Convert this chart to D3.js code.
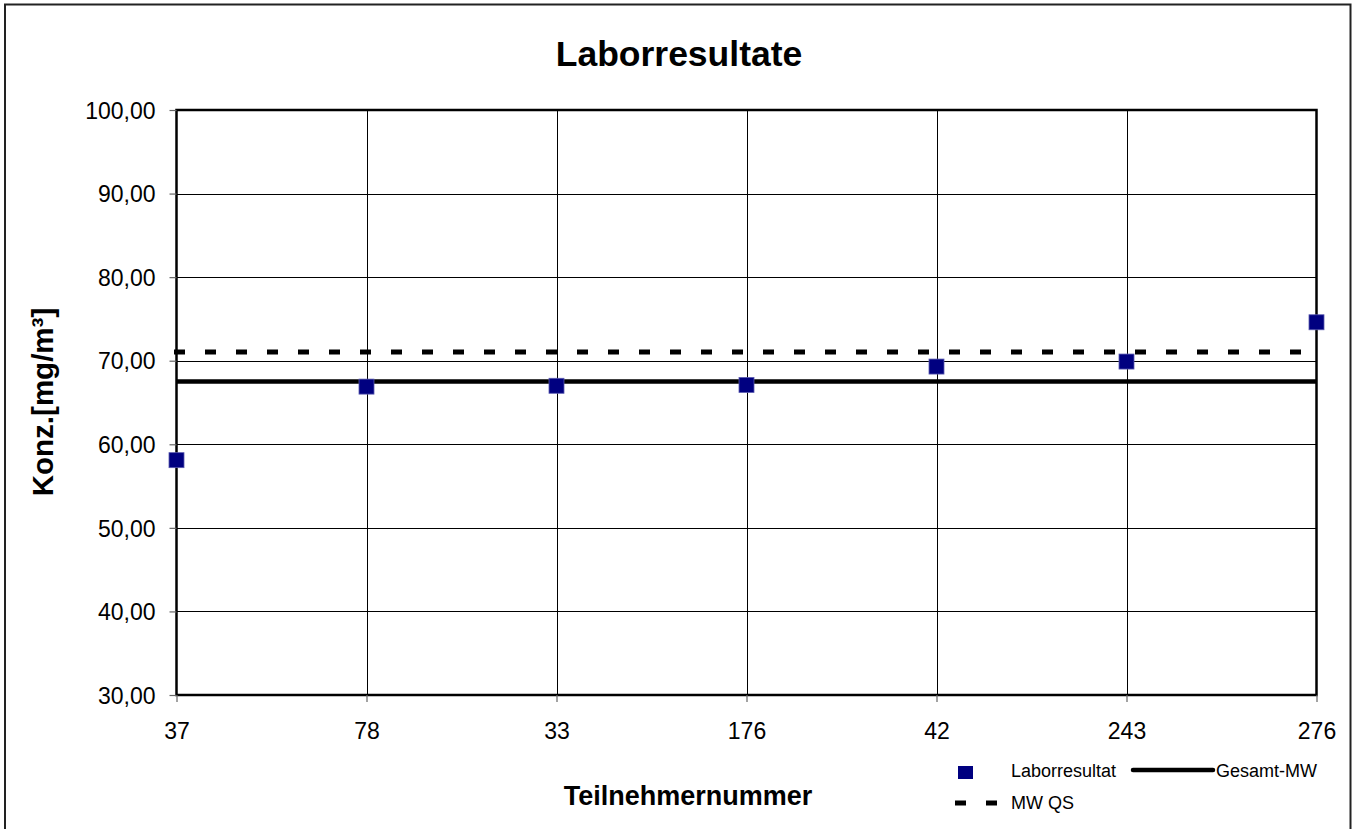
<!DOCTYPE html>
<html>
<head>
<meta charset="utf-8">
<script src="https://cdn.jsdelivr.net/npm/d3@7"></script>
<style>
  html, body { margin: 0; padding: 0; background: #fff; }
  svg { display: block; font-family: "Liberation Sans", Arial, sans-serif; }
</style>
</head>
<body>
<svg id="chart" width="1356" height="829"></svg>
<script>
const categories = ["37", "78", "33", "176", "42", "243", "276"];
const laborresultat = [58.1, 66.9, 67.0, 67.1, 69.3, 69.9, 74.6];
const gesamtMW = [67.5, 67.5, 67.5, 67.5, 67.5, 67.5, 67.5];
const mwQS = [71.05, 71.05, 71.05, 71.05, 71.05, 71.05, 71.05];
const yTicks = [30, 40, 50, 60, 70, 80, 90, 100];

const svg = d3.select("#chart");
const m = { left: 176.5, right: 1316.5, top: 110, bottom: 695 };

const x = d3.scalePoint().domain(categories).range([m.left, m.right]).padding(0);
const y = d3.scaleLinear().domain([30, 100]).range([m.bottom, m.top]);
const fmt = v => d3.format(".2f")(v).replace(".", ",");

// outer frame
svg.append("rect").attr("x", 5).attr("y", 4.5).attr("width", 1345.5).attr("height", 840)
  .attr("fill", "none").attr("stroke", "#222").attr("stroke-width", 2);

// gridlines
svg.append("g").selectAll("line").data(yTicks.filter(d => d > 30 && d < 100)).join("line")
  .attr("x1", m.left).attr("x2", m.right)
  .attr("y1", d => Math.round(y(d)) + 0.5).attr("y2", d => Math.round(y(d)) + 0.5)
  .attr("stroke", "#000").attr("stroke-width", 1);
svg.append("g").selectAll("line").data(categories.slice(1, -1)).join("line")
  .attr("y1", m.top).attr("y2", m.bottom)
  .attr("x1", d => Math.round(x(d)) + 0.5).attr("x2", d => Math.round(x(d)) + 0.5)
  .attr("stroke", "#000").attr("stroke-width", 1);

// plot border
svg.append("rect").attr("x", m.left).attr("y", m.top)
  .attr("width", m.right - m.left).attr("height", m.bottom - m.top)
  .attr("fill", "none").attr("stroke", "#000").attr("stroke-width", 2.5);

// y axis
const yAxis = d3.axisLeft(y).tickValues(yTicks).tickFormat(fmt).tickSize(7).tickPadding(14);
const gy = svg.append("g").attr("transform", `translate(${m.left},0)`).call(yAxis);
gy.select(".domain").remove();
gy.selectAll(".tick line").attr("stroke", "#666").attr("stroke-width", 1.2);
gy.selectAll("text").attr("font-size", 23).attr("fill", "#000")
  .attr("font-family", "Liberation Sans, Arial, sans-serif").attr("dy", "0.36em");

// x axis
const xAxis = d3.axisBottom(x).tickSize(7).tickPadding(21);
const gx = svg.append("g").attr("transform", `translate(0,${m.bottom})`).call(xAxis);
gx.select(".domain").remove();
gx.selectAll(".tick line").attr("stroke", "#666").attr("stroke-width", 1.2);
gx.selectAll("text").attr("font-size", 23).attr("fill", "#000")
  .attr("font-family", "Liberation Sans, Arial, sans-serif").attr("dy", "0.71em");

// lines
const line = d3.line().x((d, i) => x(categories[i])).y(d => y(d));
svg.append("path").datum(mwQS).attr("d", line)
  .attr("fill", "none").attr("stroke", "#000").attr("stroke-width", 5)
  .attr("stroke-dasharray", "6,25").attr("stroke-linecap", "square");
svg.append("path").datum(gesamtMW).attr("d", line)
  .attr("fill", "none").attr("stroke", "#000").attr("stroke-width", 4.5);

// markers
const ms = 15;
svg.append("g").selectAll("rect").data(laborresultat).join("rect")
  .attr("x", (d, i) => x(categories[i]) - ms / 2)
  .attr("y", d => y(d) - ms / 2)
  .attr("width", ms).attr("height", ms)
  .attr("fill", "#000080").attr("stroke", "#5a5ab0").attr("stroke-width", 0.8);

// title
svg.append("text").attr("x", 679).attr("y", 66).attr("text-anchor", "middle")
  .attr("font-size", 35.5).attr("font-weight", "bold").text("Laborresultate");

// axis titles
svg.append("text").attr("transform", "translate(53,402) rotate(-90)")
  .attr("text-anchor", "middle").attr("font-size", 29.5).attr("font-weight", "bold")
  .text("Konz.[mg/m³]");
svg.append("text").attr("x", 688).attr("y", 805).attr("text-anchor", "middle")
  .attr("font-size", 27).attr("font-weight", "bold").text("Teilnehmernummer");

// legend
const lg = svg.append("g");
lg.append("rect").attr("x", 958).attr("y", 766).attr("width", 15).attr("height", 13)
  .attr("fill", "#000080");
lg.append("text").attr("x", 1011).attr("y", 777).attr("font-size", 18).text("Laborresultat");
lg.append("line").attr("x1", 1133).attr("x2", 1213).attr("y1", 770).attr("y2", 770)
  .attr("stroke", "#000").attr("stroke-width", 4.5).attr("stroke-linecap", "round");
lg.append("text").attr("x", 1216).attr("y", 777).attr("font-size", 18).text("Gesamt-MW");
lg.append("line").attr("x1", 957.5).attr("x2", 1000).attr("y1", 803).attr("y2", 803)
  .attr("stroke", "#000").attr("stroke-width", 5)
  .attr("stroke-dasharray", "6,25").attr("stroke-linecap", "square");
lg.append("text").attr("x", 1011).attr("y", 809).attr("font-size", 18).text("MW QS");
</script>
</body>
</html>
